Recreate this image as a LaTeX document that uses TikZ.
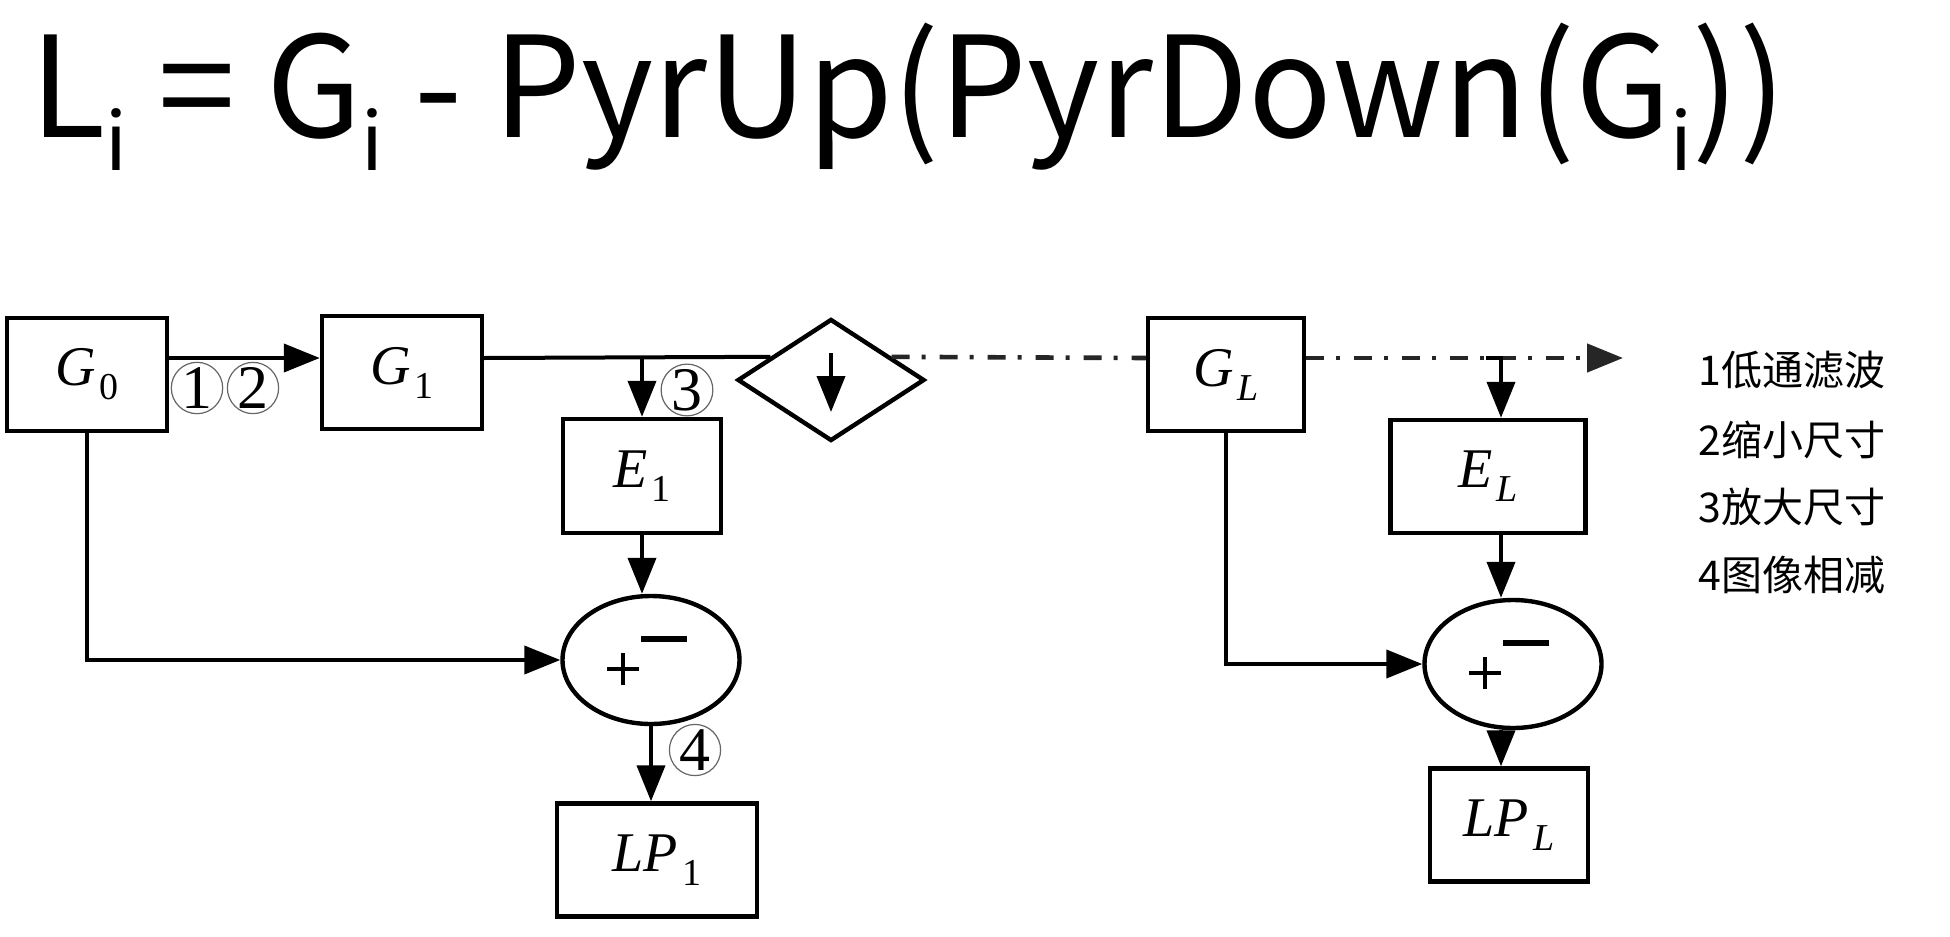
\documentclass[tikz,border=0pt]{standalone}
\usepackage{fontspec}
\newfontfamily\cjk{Noto Sans CJK SC}
\newfontfamily\tms{Liberation Serif}
\usetikzlibrary{shapes.geometric,arrows.meta,calc}
\newcommand\sbi{\raisebox{-16.5pt}{\fontsize{40}{40}\selectfont i}}
\newcommand\bx[2]{{\tms\itshape #1}\hspace{2pt}\raisebox{-7pt}{\fontsize{19}{19}\selectfont\tms #2}}
\begin{document}
\begin{tikzpicture}[x=0.5pt,y=-0.5pt,
 line width=2pt,
 box/.style={draw, line width=2.2pt, minimum height=56.5pt, inner sep=0pt, font=\fontsize{28}{30}\selectfont},
 circ/.style={draw, ellipse, line width=2.2pt, minimum width=88.5pt, minimum height=64pt, inner sep=0pt},
 dia/.style={draw, diamond, line width=2.2pt, minimum width=93.5pt, minimum height=61pt, inner sep=0pt},
 arr/.style={-{Triangle[length=18pt,width=14pt]}},
 dd/.style={line width=2.3pt, black!85, dash pattern=on 9pt off 6pt on 2pt off 7pt},
 num/.style={draw=black!60, line width=0.6pt, circle, minimum size=25pt, inner sep=0pt, font=\tms\fontsize{31}{31}\selectfont, text=black},
 legend/.style={anchor=base west, font=\cjk\fontsize{20.5}{24}\selectfont},
 pm/.style={line width=1.6pt}]

\fill[white] (0,0) rectangle (1950,937);
\useasboundingbox (0,0) rectangle (1950,937);

\node[anchor=base west, inner sep=0pt, font=\cjk\fontsize{70}{80}\selectfont] (title) at (28,137) {\scalebox{0.99}[1]{L\sbi{} = G\sbi{} - PyrUp(PyrDown(G\sbi))}};

\node[box, minimum width=80pt] (G0) at (87,374.5) {\bx{G}{0}};
\node[box, minimum width=80pt] (G1) at (402,372.5) {\bx{G}{1}};
\node[box, minimum width=79pt, minimum height=57pt] (E1) at (642,476) {\bx{E}{1}};
\node[box, minimum width=100pt] (LP1) at (657,860) {\bx{LP}{1}};
\node[circ] (c1) at (651,660) {};
\node[dia] (dm) at (831,380) {};
\node[box, minimum width=78pt] (GL) at (1226,374.5) {\bx{G}{\itshape L}};
\node[box, minimum width=97.5pt] (EL) at (1488,476.5) {\bx{E}{\itshape L}};
\node[circ] (cL) at (1513,664) {};
\node[box, minimum width=79pt] (LPL) at (1509,825) {\bx{LP}{\itshape L}};

\coordinate (row) at (0,358);
\coordinate (xR) at (1501,0);
\coordinate (endR) at (1623,358);

\draw[arr] (G0.east |- row) -- (G1.west |- row);
\draw (G1.east |- row) -- ($(dm.west)!0.367!(dm.north)$);
\draw[arr] (E1.north |- row) -- (E1.north);
\draw[arr] ([yshift=13.5pt]dm.center) -- ([yshift=-16pt]dm.center);
\draw[dd] ($(dm.east)!0.367!(dm.north)$) -- (GL.west |- row);
\draw[dd, arr] (GL.east |- row) -- (endR);
\draw[arr] ($(xR |- row)+(-15,0)$) -- (xR |- row) -- (xR |- EL.north);
\draw[arr] (xR |- EL.south) -- (xR |- cL.north);
\draw[arr] (xR |- cL.south) -- (xR |- LPL.north);
\draw[arr] (GL.south) |- (cL.west);
\draw[arr] (G0.south) |- (c1.west);
\draw[arr] (E1.south) -- (E1.south |- c1.north);
\draw[arr] (c1.south) -- (c1.south |- LP1.north);

\foreach \c in {c1,cL} {
 \draw[line width=2.8pt] ($(\c)+(-10,-21)$) -- ($(\c)+(36,-21)$);
 \draw[pm] ($(\c)+(-44,9)$) -- ($(\c)+(-12,9)$);
 \draw[pm] ($(\c)+(-28,-7)$) -- ($(\c)+(-28,25)$);
}

\node[num] (n1) at (197,388) {1};
\node[num] (n2) at (253,388) {2};
\node[num] (n3) at (687,390) {3};
\node[num] (n4) at (695,750) {4};

\node[legend] (l1) at (1690,385) {1低通滤波};
\node[legend] (l2) at (1690,455) {2缩小尺寸};
\node[legend] (l3) at (1690,522) {3放大尺寸};
\node[legend] (l4) at (1690,590) {4图像相减};
\end{tikzpicture}
\end{document}
